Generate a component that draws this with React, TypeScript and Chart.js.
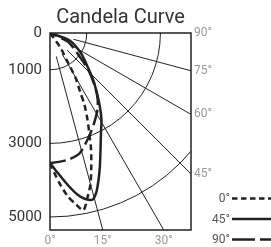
import React, { useEffect, useRef } from "react";
import { Chart, registerables } from "chart.js";
Chart.register(...registerables);

// C-plane labels
const planeLabels = ["0°", "45°", "90°"];
// Polar candela data: angle from nadir (deg) and intensity (cd)
const angles0 = [0, 1.8, 3.6, 6.2, 8.7, 10.7, 12.8, 14.9, 16.8, 19.4, 21.2, 23.4, 25.7, 27, 29.7, 31.7, 35.5, 90];
const candela0 = [3530, 3805, 4085, 4465, 4720, 4900, 4590, 4265, 3880, 3360, 2965, 2565, 2160, 1820, 1400, 855, 490, 0];
const angles45 = [0, 3.1, 6.6, 9.7, 11.8, 14.3, 16.3, 18.3, 20.5, 23.4, 27, 30.7, 35.1, 41.5, 48.3, 57, 69, 90];
const candela45 = [3530, 3800, 4150, 4460, 4600, 4675, 4495, 4200, 3870, 3455, 3050, 2740, 2325, 1815, 1365, 1000, 585, 0];
const angles90 = [0, 4, 9, 14, 20, 25.4, 31.8, 36, 40, 46.2, 52.5, 64, 90];
const candela90 = [3530, 3510, 3467, 3360, 3040, 2760, 2450, 2200, 1900, 1440, 970, 545, 0];

// Axis ticks
const candelaTicks = [0, 1000, 3000, 5000];
const bottomAngleTicks = [0, 15, 30];
const rightAngleTicks = [90, 75, 60, 45];
const gridCircles = [1000, 3000, 5000];
const gridRays = [15, 30, 45, 60, 75];
const rayStart = 660;

const X_MAX = 3831;
const Y_MAX = 5353;
const TITLE = "Candela Curve";

const rad = (d: number) => (d * Math.PI) / 180;
const toXY = (angles: number[], cd: number[]) =>
  angles.map((a, i) => ({ x: cd[i] * Math.sin(rad(a)), y: cd[i] * Math.cos(rad(a)) }));

const plotDash: number[][] = [[6, 4], [], [16, 5]];
const legendDash: number[][] = [[5.5, 3.5], [], [23, 5]];
const INK = "#222";

const decorPlugin = {
  id: "decor",
  beforeDatasetsDraw(chart: any) {
    const { ctx, chartArea: a, scales } = chart;
    const xs = scales.x, ys = scales.y;
    const ox = xs.getPixelForValue(0), oy = ys.getPixelForValue(0);
    ctx.save();
    ctx.beginPath();
    ctx.rect(a.left, a.top, a.right - a.left, a.bottom - a.top);
    ctx.clip();
    ctx.strokeStyle = INK;
    ctx.lineWidth = 1;
    for (const r of gridCircles) {
      const rx = xs.getPixelForValue(r) - ox;
      const ry = ys.getPixelForValue(r) - oy;
      ctx.beginPath();
      ctx.ellipse(ox, oy, rx, ry, 0, 0, Math.PI / 2);
      ctx.stroke();
    }
    for (const d of gridRays) {
      const t = rad(d);
      ctx.beginPath();
      ctx.moveTo(xs.getPixelForValue(rayStart * Math.sin(t)), ys.getPixelForValue(rayStart * Math.cos(t)));
      ctx.lineTo(xs.getPixelForValue(20000 * Math.sin(t)), ys.getPixelForValue(20000 * Math.cos(t)));
      ctx.stroke();
    }
    ctx.restore();
  },
  afterDatasetsDraw(chart: any) {
    const { ctx, chartArea: a } = chart;
    ctx.save();
    ctx.strokeStyle = INK;
    ctx.lineWidth = 1.5;
    ctx.strokeRect(a.left, a.top, a.right - a.left, a.bottom - a.top);
    ctx.restore();
  },
  afterDraw(chart: any) {
    const { ctx, chartArea: a } = chart;
    ctx.save();
    ctx.fillStyle = "#333";
    ctx.font = "20px Roboto";
    ctx.textAlign = "center";
    ctx.textBaseline = "alphabetic";
    ctx.fillText(TITLE, (a.left + a.right) / 2, 23);
    // legend
    const ys = [198.5, 219, 239.5];
    chart.data.datasets.forEach((ds: any, i: number) => {
      const y = ys[i];
      ctx.fillStyle = "#555";
      ctx.font = "12px Roboto";
      ctx.textAlign = "right";
      ctx.textBaseline = "middle";
      ctx.fillText(ds.label, 230, y + 0.5);
      ctx.strokeStyle = INK;
      ctx.lineWidth = 2.5;
      ctx.setLineDash(legendDash[i]);
      ctx.beginPath();
      ctx.moveTo(232, y);
      ctx.lineTo(275, y);
      ctx.stroke();
    });
    ctx.restore();
  },
};

export default function App() {
  const ref = useRef<HTMLCanvasElement | null>(null);
  useEffect(() => {
    if (!ref.current) return;
    const series = [toXY(angles0, candela0), toXY(angles45, candela45), toXY(angles90, candela90)];
    const chart = new Chart(ref.current, {
      type: "scatter",
      data: {
        datasets: series.map((d, i) => ({
          label: planeLabels[i],
          data: d,
          showLine: true,
          borderColor: INK,
          backgroundColor: INK,
          borderWidth: 2.5,
          borderDash: plotDash[i],
          pointRadius: 0,
          tension: 0.25,
        })),
      },
      options: {
        animation: false,
        responsive: false,
        layout: { padding: { top: 33, left: 0, right: 0, bottom: 0 } },
        plugins: { legend: { display: false }, title: { display: false }, tooltip: { enabled: false } },
        scales: {
          x: {
            type: "linear",
            position: "bottom",
            min: 0,
            max: X_MAX,
            grid: { display: false, drawTicks: false },
            border: { display: false },
            afterBuildTicks: (s: any) => {
              s.ticks = bottomAngleTicks.map((a) => ({ value: Y_MAX * Math.tan(rad(a)) }));
            },
            afterFit: (s: any) => {
              s.height = 17;
            },
            ticks: {
              autoSkip: false,
              maxRotation: 0,
              padding: 4,
              color: "#999",
              font: { family: "Roboto", size: 12 },
              callback: (_v: any, i: number) => bottomAngleTicks[i] + "°",
            },
          },
          y: {
            type: "linear",
            position: "left",
            min: 0,
            max: Y_MAX,
            reverse: true,
            grid: { display: false, drawTicks: false },
            border: { display: false },
            afterBuildTicks: (s: any) => {
              s.ticks = candelaTicks.map((v) => ({ value: v }));
            },
            afterFit: (s: any) => {
              s.width = 50;
            },
            ticks: {
              autoSkip: false,
              padding: 8,
              color: "#333",
              font: { family: "Roboto", size: 15 },
              callback: (_v: any, i: number) => String(candelaTicks[i]),
            },
          },
          y2: {
            type: "linear",
            position: "right",
            min: 0,
            max: Y_MAX,
            reverse: true,
            grid: { display: false, drawTicks: false },
            border: { display: false },
            afterBuildTicks: (s: any) => {
              s.ticks = rightAngleTicks.map((a) => ({ value: a >= 90 ? 0 : X_MAX / Math.tan(rad(a)) }));
            },
            afterFit: (s: any) => {
              s.width = 80;
            },
            ticks: {
              autoSkip: false,
              padding: 3,
              color: "#999",
              font: { family: "Roboto", size: 12 },
              callback: (_v: any, i: number) => rightAngleTicks[i] + "°",
            },
          },
        },
      } as any,
      plugins: [decorPlugin],
    });
    return () => chart.destroy();
  }, []);
  return (
    <div style={{ position: "fixed", left: 0, top: 0, width: 271, height: 247 }}>
      <canvas ref={ref} width={271} height={247} />
    </div>
  );
}
